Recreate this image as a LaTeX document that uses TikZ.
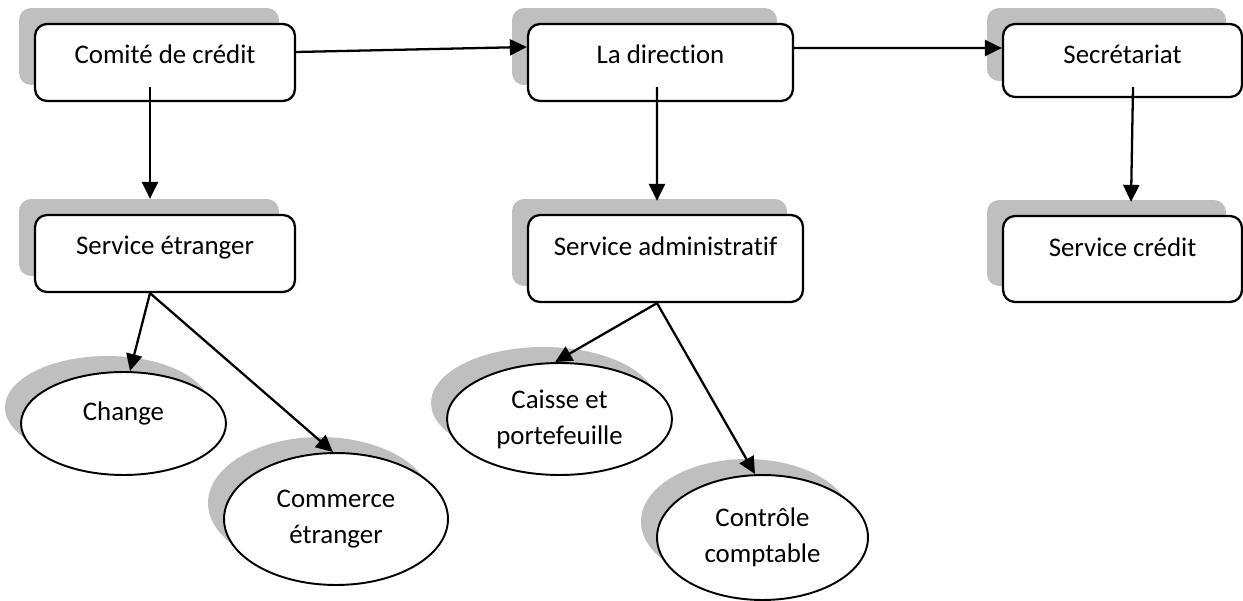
\documentclass[tikz,border=0pt]{standalone}
\usepackage{fontspec}
\setmainfont{Carlito}[Ligatures=NoCommon]
\usetikzlibrary{arrows.meta,shapes.geometric,shadows}
\definecolor{shadowgray}{RGB}{191,191,191}

\begin{document}
\begin{tikzpicture}[x=0.02cm, y=-0.02cm,
	font=\fontsize{15.3}{20.5}\selectfont,
	shade/.style={drop shadow={shadow xshift=-0.32cm, shadow yshift=0.32cm, opacity=1, fill=shadowgray}},
	box/.style={draw, line width=1.3pt, fill=white, rounded corners=0.24cm, inner xsep=0pt, inner ysep=0pt, text height=0.8cm, align=center, shade},
	oval/.style={ellipse, draw, line width=1.1pt, fill=white, inner sep=0pt, align=center, shade},
	arr/.style={line width=1.3pt, -{Triangle[length=0.34cm, width=0.32cm]}}]
	\useasboundingbox (0,0) rectangle (1243,601);

	% top row
	\node[box, minimum width=5.2cm, text depth=0.74cm] (comite) at (165,62.5) {Comité de crédit};
	\node[box, minimum width=5.3cm, text depth=0.74cm] (direction) at (660.5,62.5) {La direction};
	\node[box, minimum width=4.78cm, text depth=0.66cm] (secretariat) at (1122.5,60.5) {Secrétariat};
	% services
	\node[box, minimum width=5.2cm, text depth=0.74cm] (etranger) at (165,253.5) {Service étranger};
	\node[box, minimum width=5.5cm, text depth=0.94cm] (admin) at (665.5,258.5) {Service administratif};
	\node[box, minimum width=4.78cm, text depth=0.92cm] (credit) at (1122.5,259) {Service crédit};
	% ovals
	\node[oval, minimum width=4.1cm, minimum height=2.06cm, text depth=0.48cm] (change) at (123.5,423.5) {Change};
	\node[oval, minimum width=4.48cm, minimum height=2.64cm] (commerce) at (336,519) {Commerce\\étranger};
	\node[oval, minimum width=4.5cm, minimum height=2.24cm] (caisse) at (559.5,419) {Caisse et\\portefeuille};
	\node[oval, minimum width=4.22cm, minimum height=2.5cm] (controle) at (762.5,537.5) {Contrôle\\comptable};

	% top row
	\draw[arr] ([yshift=0.21cm]comite.east) -- ([yshift=0.31cm]direction.west);
	\draw[arr] ([yshift=0.29cm]direction.east) -- ([yshift=0.25cm]secretariat.west);
	% down
	\draw[arr] ([xshift=-0.3cm,yshift=0.3cm]comite.south) -- ([xshift=-0.3cm,yshift=0.3cm]etranger.north);
	\draw[arr] ([xshift=-0.07cm,yshift=0.3cm]direction.south) -- ([xshift=-0.17cm,yshift=0.26cm]admin.north);
	\draw[arr] ([xshift=0.21cm,yshift=0.22cm]secretariat.south) -- ([xshift=0.17cm,yshift=0.26cm]credit.north);
	% etranger
	\draw[arr] ([xshift=-0.3cm]etranger.south) -- ([xshift=0.13cm]change.north);
	\draw[arr] ([xshift=-0.3cm]etranger.south) -- ([xshift=-0.06cm]commerce.north);
	% admin
	\draw[arr] ([xshift=-0.17cm]admin.south) -- ([xshift=-0.09cm]caisse.north);
	\draw[arr] ([xshift=-0.17cm]admin.south) -- ([xshift=-0.15cm]controle.north);
\end{tikzpicture}
\end{document}
